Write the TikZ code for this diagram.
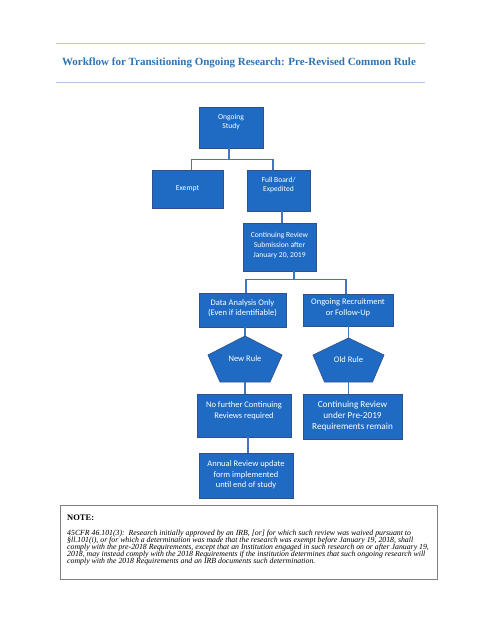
\documentclass[tikz,border=0pt]{standalone}
\usepackage{fontspec}
\setmainfont{Liberation Serif}
\newfontfamily\boxfont{Carlito}
\usetikzlibrary{calc}
\definecolor{boxblue}{HTML}{1F6BC4}
\definecolor{boxedge}{HTML}{2F528F}
\definecolor{linkblue}{HTML}{4472C4}
\definecolor{titleblue}{HTML}{2E74B5}
\definecolor{rulecol}{HTML}{B4C6E7}
\definecolor{notegrey}{HTML}{808080}
\begin{document}
\begin{tikzpicture}[x=1pt,y=-1pt,
  box/.style={fill=boxblue,draw=boxedge,line width=0.7pt,inner sep=0pt},
  btxtS/.style={text=white,align=center,inner sep=0pt,font=\boxfont\fontsize{7.6}{9.7}\selectfont},
  btxtM/.style={text=white,align=center,inner sep=0pt,font=\boxfont\fontsize{8.5}{10.5}\selectfont},
  btxtL/.style={text=white,align=center,inner sep=0pt,font=\boxfont\fontsize{9.2}{11}\selectfont},
  penta/.style={text=white,inner sep=0pt,font=\boxfont\fontsize{8.5}{10.5}\selectfont},
  pentshape/.style={fill=boxblue,draw=boxedge,line width=0.7pt},
  link/.style={draw=linkblue,line width=1.5pt},
  rulestyle/.style={draw=rulecol,line width=0.9pt},
]
\useasboundingbox (0,0) rectangle (479,620);
\fill[white] (0,0) rectangle (479,620);

% title
\draw[rulestyle] (56,43) -- (425,43);
\draw[rulestyle] (56,82) -- (425,82);
\node[text=titleblue,inner sep=0pt,font=\bfseries\fontsize{11}{13}\selectfont] (title) at (239,63)
  {Workflow for Transitioning Ongoing Research: Pre-Revised Common Rule};

% boxes
\node[box,minimum width=64pt,minimum height=41pt] (ongoing) at (231,127.5) {};
\node[btxtS] (ongoing-t) at (231,122) {Ongoing\\Study};

\node[box,minimum width=71pt,minimum height=38pt] (exempt) at (187.5,189) {};
\node[btxtS] (exempt-t) at (187.5,189) {Exempt};

\node[box,minimum width=63pt,minimum height=41pt] (fullboard) at (278.5,190.5) {};
\node[btxtS] (fullboard-t) at (278.5,185) {Full Board/\\Expedited};

\node[box,minimum width=73pt,minimum height=48pt] (cr) at (279.5,247) {};
\node[btxtS] (cr-t) at (279.5,245.5) {Continuing Review\\Submission after\\January 20, 2019};

\node[box,minimum width=87pt,minimum height=34pt] (data) at (242.5,310) {};
\node[btxtM] (data-t) at (242.5,308) {Data Analysis Only\\(Even if identifiable)};

\node[box,minimum width=90pt,minimum height=32pt] (recruit) at (348,310) {};
\node[btxtM] (recruit-t) at (348,308) {Ongoing Recruitment\\or Follow-Up};

% pentagons
\coordinate (nrc) at (245,359);
\path[pentshape] ($(nrc)+(0,-23)$) -- ($(nrc)+(37,-4)$) -- ($(nrc)+(25,23)$) -- ($(nrc)+(-25,23)$) -- ($(nrc)+(-37,-4)$) -- cycle;
\node[penta,minimum width=74pt,minimum height=46pt] (newrule) at (nrc) {New Rule};

\coordinate (orc) at (348.5,360);
\path[pentshape] ($(orc)+(0,-22)$) -- ($(orc)+(35.5,-5)$) -- ($(orc)+(24,22)$) -- ($(orc)+(-24,22)$) -- ($(orc)+(-35.5,-5)$) -- cycle;
\node[penta,minimum width=71pt,minimum height=44pt] (oldrule) at (orc) {Old Rule};

\node[box,minimum width=94pt,minimum height=43pt] (nofurther) at (244,415.5) {};
\node[btxtM] (nofurther-t) at (244,410.5) {No further Continuing\\Reviews required};

\node[box,minimum width=99pt,minimum height=45pt] (crunder) at (352.5,416.5) {};
\node[btxtL] (crunder-t) at (352.5,416) {Continuing Review\\under Pre-2019\\Requirements remain};

\node[box,minimum width=94pt,minimum height=45pt] (annual) at (246,475.5) {};
\node[btxtM] (annual-t) at (246,475) {Annual Review update\\form implemented\\until end of study};

% connectors
\draw[link] ([xshift=-2pt]ongoing.south) -- ++(0,11) -| ([xshift=4pt]exempt.north);
\draw[link] ([xshift=-2pt]ongoing.south) -- ++(0,11) -| ([xshift=-5.5pt]fullboard.north);
\draw[link] ([xshift=3.5pt]fullboard.south) -- ([xshift=3.5pt]fullboard.south |- cr.north);
\draw[link] ([xshift=14.5pt]cr.south) -- ++(0,8) -| ([xshift=3.5pt]data.north);
\draw[link] ([xshift=14.5pt]cr.south) -- ++(0,8) -| ([xshift=-2pt]recruit.north);
\draw[link] (newrule.north |- data.south) -- (newrule.north);
\draw[link] (newrule.south) -- (newrule.south |- nofurther.north);
\draw[link] ([xshift=2pt]annual.north |- nofurther.south) -- ([xshift=2pt]annual.north);
\draw[link] (oldrule.north |- recruit.south) -- (oldrule.north);
\draw[link] (oldrule.south) -- (oldrule.south |- crunder.north);

% note
\draw[draw=notegrey,line width=0.8pt] (60.7,505) rectangle (437,579);
\node[anchor=base west,inner sep=0pt,font=\bfseries\fontsize{8.5}{10}\selectfont] (notehead) at (67,520) {NOTE:};
\node[anchor=north west,inner sep=0pt,align=left,
  font={\itshape\fontsize{7.8}{7.0}\selectfont\lineskiplimit=-20pt\lineskip=0pt}] (notebody) at (67,530.2)
  {45CFR 46.101(3):\ \ Research initially approved by an IRB, [or] for which such review was waived pursuant to\\
   §ll.101(i), or for which a determination was made that the research was exempt before January 19, 2018, shall\\
   comply with the pre-2018 Requirements, except that an Institution engaged in such research on or after January 19,\\
   2018, may instead comply with the 2018 Requirements if the institution determines that such ongoing research will\\
   comply with the 2018 Requirements and an IRB documents such determination.};
\end{tikzpicture}
\end{document}
